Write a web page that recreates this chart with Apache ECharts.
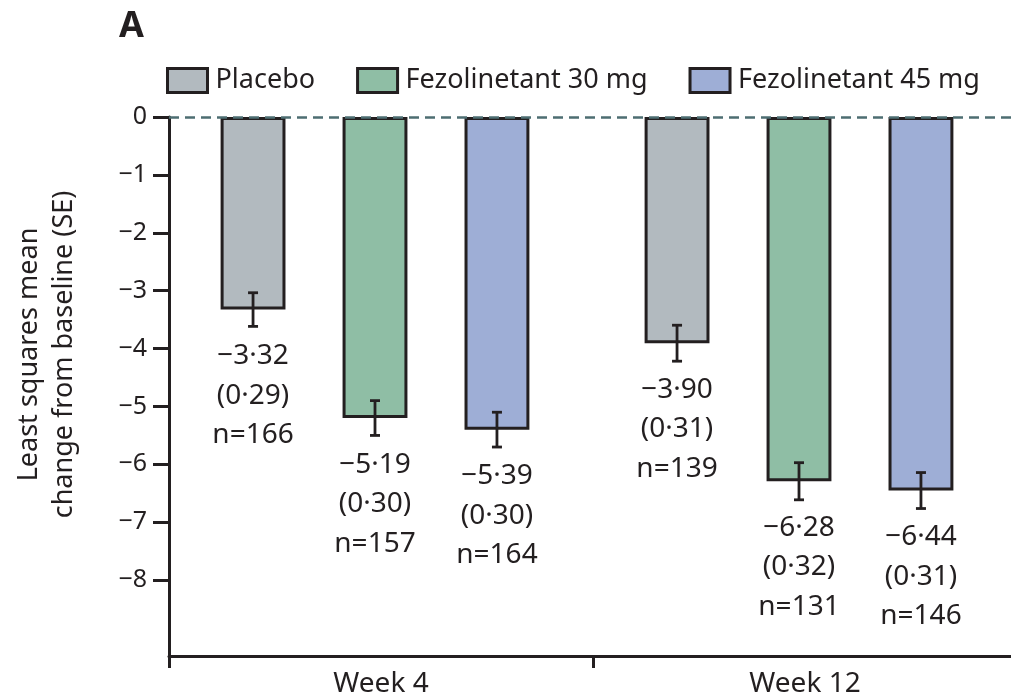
<!DOCTYPE html>
<html>
<head>
<meta charset="utf-8">
<script src="https://cdn.jsdelivr.net/npm/echarts@6/dist/echarts.min.js"></script>
<style>
  html, body { margin: 0; padding: 0; background: #ffffff; overflow: hidden; }
  #chart { width: 1030px; height: 698px; }
</style>
</head>
<body>
<div id="chart"></div>
<script>
// ---- data ----
const categories = ['Week 4', 'Week 12'];
const seriesNames = ['Placebo', 'Fezolinetant 30 mg', 'Fezolinetant 45 mg'];
const placeboMean = [-3.32, -3.90];
const fez30Mean = [-5.19, -6.28];
const fez45Mean = [-5.39, -6.44];
const placeboSE = [0.29, 0.31];
const fez30SE = [0.30, 0.32];
const fez45SE = [0.30, 0.31];
const placeboN = [166, 139];
const fez30N = [157, 131];
const fez45N = [164, 146];
const yTickValues = [0, -1, -2, -3, -4, -5, -6, -7, -8];

// ---- style ----
const INK = '#231f20';
const FONT = '"Noto Sans", "DejaVu Sans", sans-serif';
const colors = ['#b2babf', '#8fbea5', '#9eaed6'];
const BAR_FRAC = 0.153;
const BAR_GAP = 0.88;
const Y_MIN = -9.31;

const means = [placeboMean, fez30Mean, fez45Mean];
const ses = [placeboSE, fez30SE, fez45SE];
const ns = [placeboN, fez30N, fez45N];

function fmt(v) {
  return v.toFixed(2).replace('-', '\u2212').replace('.', '\u00b7');
}

const chart = echarts.init(document.getElementById('chart'), null, { renderer: 'canvas' });

const barSeries = seriesNames.map((name, k) => ({
  name: name,
  type: 'bar',
  xAxisIndex: 1,
  yAxisIndex: 1,
  barWidth: (BAR_FRAC * 100) + '%',
  barGap: (BAR_GAP * 100) + '%',
  data: means[k],
  itemStyle: { color: colors[k], borderColor: INK, borderWidth: 3 },
  label: {
    show: true,
    position: 'bottom',
    distance: 27,
    color: INK,
    fontFamily: FONT,
    fontSize: 28,
    lineHeight: 39.5,
    align: 'center',
    formatter: function (p) {
      const i = p.dataIndex;
      return fmt(means[k][i]) + '\n(' + ses[k][i].toFixed(2).replace('.', '\u00b7') + ')\nn=' + ns[k][i];
    }
  },
  z: 2
}));

const errData = [];
for (let k = 0; k < 3; k++) {
  for (let i = 0; i < categories.length; i++) {
    errData.push([i, k, means[k][i], ses[k][i]]);
  }
}

const errSeries = {
  type: 'custom',
  xAxisIndex: 1,
  yAxisIndex: 1,
  silent: true,
  z: 5,
  data: errData,
  renderItem: function (params, api) {
    const cat = api.value(0), k = api.value(1), v = api.value(2), se = api.value(3);
    const band = api.size([1, 0])[0];
    const bw = band * BAR_FRAC;
    const step = bw * (1 + BAR_GAP);
    const c = api.coord([cat, v]);
    const x = c[0] + (k - 1) * step;
    const yTop = api.coord([cat, v + se])[1];
    const yBot = api.coord([cat, v - se])[1];
    const cap = 5;
    const st = { stroke: INK, lineWidth: 2.8 };
    return {
      type: 'group',
      children: [
        { type: 'line', shape: { x1: x, y1: yTop, x2: x, y2: yBot }, style: st },
        { type: 'line', shape: { x1: x - cap, y1: yTop, x2: x + cap, y2: yTop }, style: st },
        { type: 'line', shape: { x1: x - cap, y1: yBot, x2: x + cap, y2: yBot }, style: st }
      ]
    };
  }
};

const zeroLine = {
  type: 'line',
  xAxisIndex: 0,
  yAxisIndex: 0,
  data: [],
  silent: true,
  z: 10,
  markLine: {
    silent: true,
    symbol: ['none', 'none'],
    label: { show: false },
    lineStyle: { color: '#4d6e72', width: 2.5, type: [10, 6] },
    data: [{ yAxis: 0 }]
  }
};

const option = {
  backgroundColor: '#ffffff',
  animation: false,
  title: {
    text: 'A',
    left: 114,
    top: 4,
    textStyle: { fontFamily: FONT, fontSize: 36, fontWeight: 'bold', color: INK }
  },
  legend: {
    left: 161,
    top: 62,
    itemWidth: 40,
    itemHeight: 24,
    itemGap: 41,
    icon: 'rect',
    data: seriesNames,
    textStyle: { fontFamily: FONT, fontSize: 27, color: INK, padding: [0, 0, 0, 3] },
    itemStyle: { borderColor: INK, borderWidth: 3 }
  },
  grid: [
    { left: 169, right: 13, top: 117, bottom: 41 },
    { left: 163, right: 19, top: 117, bottom: 41 }
  ],
  xAxis: [
    {
      type: 'category',
      gridIndex: 0,
      data: categories,
      axisLine: { onZero: false, lineStyle: { color: INK, width: 3 } },
      axisTick: { show: true, length: 12, lineStyle: { color: INK, width: 3 } },
      axisLabel: { fontFamily: FONT, fontSize: 28, color: INK, margin: 14 }
    },
    {
      type: 'category',
      gridIndex: 1,
      data: categories,
      show: false
    }
  ],
  yAxis: [
    {
      type: 'value',
      gridIndex: 0,
      min: Y_MIN,
      max: 0,
      name: 'Least squares mean\nchange from baseline (SE)',
      nameLocation: 'middle',
      nameGap: 87,
      nameTextStyle: { fontFamily: FONT, fontSize: 27, color: INK, lineHeight: 35, padding: [0, 0, 0, 64] },
      axisLine: { show: true, lineStyle: { color: INK, width: 3 } },
      axisTick: { show: true, length: 16, customValues: yTickValues, lineStyle: { color: INK, width: 3 } },
      axisLabel: {
        customValues: yTickValues,
        fontFamily: FONT, fontSize: 25, color: INK, margin: 22,
        formatter: function (v) { return String(v).replace('-', '\u2212'); }
      },
      splitLine: { show: false }
    },
    {
      type: 'value',
      gridIndex: 1,
      min: Y_MIN,
      max: 0,
      show: false,
      splitLine: { show: false }
    }
  ],
  series: barSeries.concat([errSeries, zeroLine])
};

chart.setOption(option);
</script>
</body>
</html>
